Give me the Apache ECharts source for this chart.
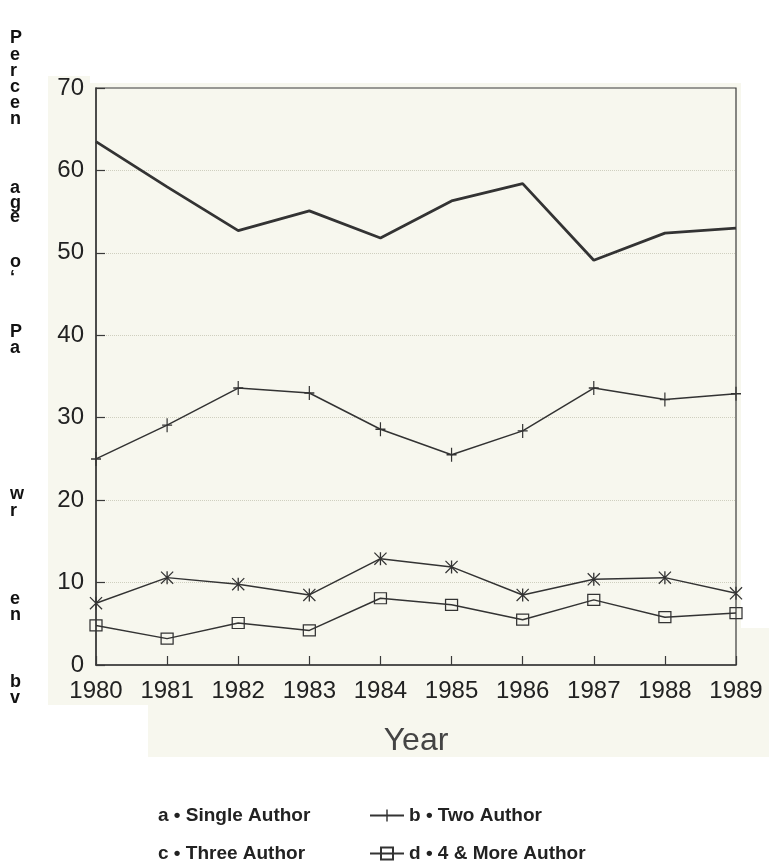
<!DOCTYPE html>
<html lang="en">
<head>
    <meta charset="UTF-8">
    <title>Percentage of Papers Written by</title>
    <script src="https://cdn.jsdelivr.net/npm/echarts@6.0.0/dist/echarts.min.js"></script>
    <style>
        html, body { margin: 0; padding: 0; background: #fff; }
        #chart { width: 769px; height: 864px; }
    </style>
</head>
<body>
    <div id="chart"></div>

    <script>
        // values
        var years = ['1980', '1981', '1982', '1983', '1984', '1985', '1986', '1987', '1988', '1989'];
        var singleAuthor = [63.5, 58.0, 52.7, 55.1, 51.8, 56.3, 58.4, 49.1, 52.4, 53.0];
        var twoAuthor = [25.0, 29.1, 33.6, 33.0, 28.6, 25.5, 28.4, 33.6, 32.2, 32.9];
        var threeAuthor = [7.5, 10.6, 9.8, 8.5, 12.9, 11.9, 8.5, 10.4, 10.6, 8.7];
        var fourMoreAuthor = [4.8, 3.2, 5.1, 4.2, 8.1, 7.3, 5.5, 7.9, 5.8, 6.3];

        var seriesNames = ['a • Single Author', 'b • Two Author', 'c • Three Author', 'd • 4 & More Author'];

        // broken vertical axis title, as it survived the scan
        var titleLetters = [
            ['P', 40], ['e', 57], ['r', 73], ['c', 89], ['e', 105], ['n', 121],
            ['a', 190], ['g', 205], ['e', 219], ['o', 264], ['‘', 280],
            ['P', 334], ['a', 350], ['w', 496], ['r', 513],
            ['e', 601], ['n', 617], ['b', 684], ['v', 700]
        ];

        var ink = '#333';
        var font = '"Liberation Sans", Arial, sans-serif';

        var crossPath = 'path://M4.4,0h1.2v12h-1.2z M0,5.4h10v1.2h-10z';
        var starPath = 'path://M5.4,0h1.2v12h-1.2z M0,0.8L0.8,0L12,11.2L11.2,12z M11.2,0L12,0.8L0.8,12L0,11.2z';

        var chart = echarts.init(document.getElementById('chart'));

        var graphics = [
            // cream paper of the scan
            { type: 'rect', z: -10, silent: true, shape: { x: 48, y: 76, width: 42, height: 8 }, style: { fill: '#f7f7ee' } },
            { type: 'rect', z: -10, silent: true, shape: { x: 48, y: 83, width: 693, height: 622 }, style: { fill: '#f7f7ee' } },
            { type: 'rect', z: -10, silent: true, shape: { x: 148, y: 628, width: 621, height: 129 }, style: { fill: '#f7f7ee' } }
        ];
        titleLetters.forEach(function (l) {
            graphics.push({
                type: 'text', left: 10, top: l[1] - 11,
                style: { text: l[0], fontSize: 18, fontWeight: 'bold', fontFamily: font, fill: '#111' }
            });
        });

        function legendAt(name, left, top, hideIcon) {
            var item = { name: name };
            if (hideIcon) {
                item.itemStyle = { opacity: 0 };
                item.lineStyle = { opacity: 0 };
            }
            return {
                data: [item], left: left, top: top, selectedMode: false,
                itemWidth: 34, itemHeight: 15,
                textStyle: { fontSize: 19, fontWeight: 'bold', color: '#222', fontFamily: font }
            };
        }

        chart.setOption({
            animation: false,
            backgroundColor: '#fff',
            graphic: graphics,
            legend: [
                legendAt(seriesNames[0], 113, 801, true),
                legendAt(seriesNames[1], 364, 801, false),
                legendAt(seriesNames[2], 113, 839, true),
                legendAt(seriesNames[3], 364, 839, false)
            ],
            grid: {
                left: 96, right: 33, top: 88, bottom: 199,
                show: true, borderColor: '#3a3a3a', borderWidth: 1.2, backgroundColor: 'transparent'
            },
            xAxis: {
                type: 'category',
                data: years,
                boundaryGap: false,
                name: 'Year',
                nameLocation: 'middle',
                nameGap: 60,
                nameTextStyle: { fontSize: 32, color: '#444', fontFamily: font },
                axisLine: { lineStyle: { color: '#3a3a3a', width: 1.5 } },
                axisTick: { inside: true, length: 9, lineStyle: { color: '#3a3a3a', width: 1.2 } },
                axisLabel: { fontSize: 24, color: '#222', margin: 14, fontFamily: font },
                splitLine: { show: false }
            },
            yAxis: {
                type: 'value',
                min: 0, max: 70, interval: 10,
                axisLine: { show: true, lineStyle: { color: '#3a3a3a', width: 1.5 } },
                axisTick: { show: true, inside: true, length: 9, lineStyle: { color: '#3a3a3a', width: 1.2 } },
                axisLabel: { fontSize: 24, color: '#222', margin: 12, fontFamily: font },
                splitLine: {
                    show: true, showMinLine: false, showMaxLine: false,
                    lineStyle: { type: 'dotted', color: '#cfcfbf', width: 1 }
                }
            },
            series: [
                {
                    name: seriesNames[0], type: 'line', data: singleAuthor,
                    symbol: 'none',
                    itemStyle: { color: ink },
                    lineStyle: { color: ink, width: 2.8 }
                },
                {
                    name: seriesNames[1], type: 'line', data: twoAuthor,
                    symbol: crossPath, symbolSize: [10, 14],
                    itemStyle: { color: ink },
                    lineStyle: { color: ink, width: 1.5 }
                },
                {
                    name: seriesNames[2], type: 'line', data: threeAuthor,
                    symbol: starPath, symbolSize: 13,
                    itemStyle: { color: ink },
                    lineStyle: { color: ink, width: 1.5 }
                },
                {
                    name: seriesNames[3], type: 'line', data: fourMoreAuthor,
                    symbol: 'rect', symbolSize: [12, 11],
                    itemStyle: { color: 'rgba(0,0,0,0)', borderColor: ink, borderWidth: 1.2 },
                    lineStyle: { color: ink, width: 1.5 }
                }
            ]
        });
    </script>
</body>
</html>
